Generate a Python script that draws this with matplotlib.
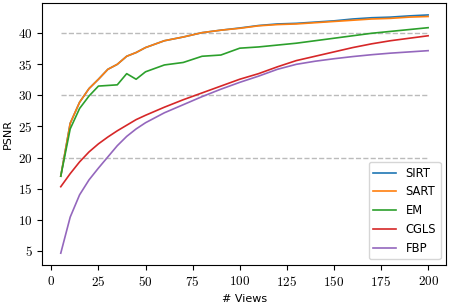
import numpy as np
import matplotlib
matplotlib.use("Agg")
import matplotlib.pyplot as plt
from matplotlib.ticker import FuncFormatter

plt.rcParams['mathtext.fontset'] = 'cm'
plt.rcParams['font.family'] = 'DejaVu Sans'

# number of views
views = [5, 10, 15, 20, 25, 30, 35, 40, 45, 50,
         60, 70, 80, 90, 100, 110, 120, 130, 140, 150,
         160, 170, 180, 190, 200]

sirt = [17.0, 25.5, 28.9, 31.1, 32.6, 34.2, 35.0, 36.3, 36.9, 37.7,
        38.8, 39.4, 40.1, 40.5, 40.85, 41.25, 41.5, 41.6, 41.8, 42.0,
        42.3, 42.5, 42.6, 42.8, 42.95]
sart = [17.0, 25.5, 28.9, 31.1, 32.6, 34.2, 35.0, 36.3, 36.9, 37.7,
        38.8, 39.4, 40.1, 40.5, 40.8, 41.2, 41.4, 41.5, 41.7, 41.9,
        42.1, 42.3, 42.4, 42.6, 42.7]
em = [17.0, 24.6, 27.9, 29.9, 31.5, 31.6, 31.7, 33.5, 32.6, 33.8,
      34.9, 35.3, 36.3, 36.5, 37.6, 37.8, 38.1, 38.4, 38.8, 39.2,
      39.6, 40.0, 40.3, 40.6, 40.9]
cgls = [15.3, 17.4, 19.3, 20.9, 22.2, 23.3, 24.3, 25.2, 26.1, 26.8,
        28.1, 29.3, 30.4, 31.5, 32.6, 33.5, 34.6, 35.6, 36.3, 37.0,
        37.7, 38.3, 38.8, 39.2, 39.6]
fbp = [4.6, 10.4, 14.0, 16.4, 18.3, 20.1, 21.9, 23.4, 24.6, 25.6,
       27.2, 28.5, 29.8, 31.0, 32.1, 33.1, 34.2, 35.0, 35.5, 35.9,
       36.25, 36.55, 36.8, 37.0, 37.2]

series = [("SIRT", sirt), ("SART", sart), ("EM", em), ("CGLS", cgls), ("FBP", fbp)]
grid_levels = [20, 30, 40]


def main():
    fig = plt.figure(figsize=(4.51, 3.04), dpi=100)
    ax = fig.add_axes([0.094, 0.128, 0.896, 0.862])

    ax.hlines(grid_levels, views[0], views[-1], colors='#bbbbbb',
              linestyles='--', linewidth=1, zorder=1)

    for name, vals in series:
        ax.plot(views, vals, label=name, linewidth=1.2, zorder=2)

    ax.set_xticks(np.arange(0, 201, 25))
    ax.set_yticks(np.arange(5, 41, 5))
    fmt = FuncFormatter(lambda v, p: r'$%d$' % v)
    ax.xaxis.set_major_formatter(fmt)
    ax.yaxis.set_major_formatter(fmt)
    ax.tick_params(labelsize=9.5)

    ax.set_xlabel("# Views", fontsize=8)
    ax.set_ylabel("PSNR", fontsize=8)
    ax.legend(loc='lower right', fontsize=8.3)

    fig.savefig("out.png", dpi=100)


if __name__ == "__main__":
    main()
